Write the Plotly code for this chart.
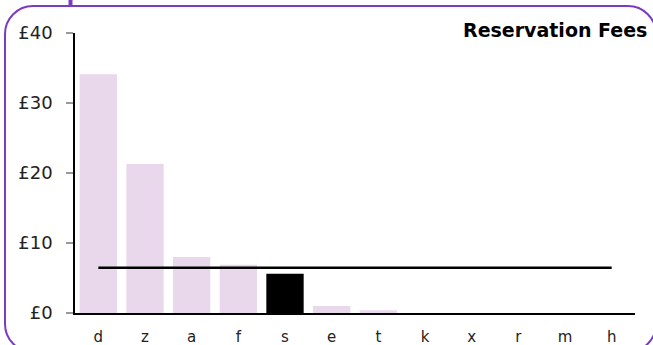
import plotly.graph_objects as go

# Reservation fee per provider (GBP), highlighted provider drawn in black
providers = ['d', 'z', 'a', 'f', 's', 'e', 't', 'k', 'x', 'r', 'm', 'h']
fees = [34.1, 21.3, 8.0, 6.9, 5.6, 1.0, 0.4, 0, 0, 0, 0, 0]
highlight = 's'
average_fee = 6.45

y_ticks = [0, 10, 20, 30, 40]
y_labels = ['£0', '£10', '£20', '£30', '£40']

bar_colors = ['#000000' if p == highlight else '#e9d8eb' for p in providers]

W, H = 653, 345
ML, MR, MT, MB = 75, 18, 33, 32
PW, PH = W - ML - MR, H - MT - MB


def px(x):
    return (x - ML) / PW


def py(y):
    return (H - MB - y) / PH


def rounded_rect(x0, y0, x1, y1, r):
    k = 0.5523 * r
    pts = [
        ('M', [(x0 + r, y0)]),
        ('L', [(x1 - r, y0)]),
        ('C', [(x1 - r + k, y0), (x1, y0 + r - k), (x1, y0 + r)]),
        ('L', [(x1, y1 - r)]),
        ('C', [(x1, y1 - r + k), (x1 - r + k, y1), (x1 - r, y1)]),
        ('L', [(x0 + r, y1)]),
        ('C', [(x0 + r - k, y1), (x0, y1 - r + k), (x0, y1 - r)]),
        ('L', [(x0, y0 + r)]),
        ('C', [(x0, y0 + r - k), (x0 + r - k, y0), (x0 + r, y0)]),
    ]
    out = ''
    for cmd, coords in pts:
        out += cmd + ' '.join(f'{px(a):.5f},{py(b):.5f}' for a, b in coords) + ' '
    return out + 'Z'


fig = go.Figure()
fig.add_trace(go.Bar(x=providers, y=fees, marker_color=bar_colors,
                     marker_line_width=0, showlegend=False))
fig.add_trace(go.Scatter(x=[providers[0], providers[-1]], y=[average_fee, average_fee],
                         mode='lines', line=dict(color='black', width=2.5),
                         showlegend=False))

fig.add_shape(type='path', xref='paper', yref='paper',
              path=rounded_rect(5, 6, 656, 352, 28),
              line=dict(color='#7c3cbf', width=2), layer='below')
fig.add_shape(type='rect', xref='paper', yref='paper',
              x0=px(68.5), x1=px(72.5), y0=py(-2), y1=py(6),
              line_width=0, fillcolor='#7c3cbf')

fig.add_annotation(text='<b>Reservation Fees</b>', xref='paper', yref='paper',
                   x=px(649), y=py(30), xanchor='right', yanchor='middle',
                   showarrow=False, font=dict(size=19, color='black'))

fig.update_layout(
    width=W, height=H,
    margin=dict(l=ML, r=MR, t=MT, b=MB, autoexpand=False),
    paper_bgcolor='white', plot_bgcolor='white',
    font=dict(family='DejaVu Sans', color='#222'),
    bargap=0.2,
)
fig.update_xaxes(showline=True, linecolor='black', linewidth=1.5, ticks='',
                 showgrid=False, tickfont=dict(size=15), ticklabelstandoff=9,
                 automargin=False)
fig.update_yaxes(range=[0, 40], tickvals=y_ticks, ticktext=y_labels,
                 showline=True, linecolor='black', linewidth=1.5,
                 ticks='outside', ticklen=7, tickcolor='#999', tickwidth=1.5,
                 showgrid=False, zeroline=False, tickfont=dict(size=18),
                 ticklabelstandoff=10, automargin=False)

# the page body has a default 8px margin; drop it so the chart fills the window
fig.write_html('out.html', config={'displayModeBar': False},
               post_script="document.body.style.margin='0px';")
